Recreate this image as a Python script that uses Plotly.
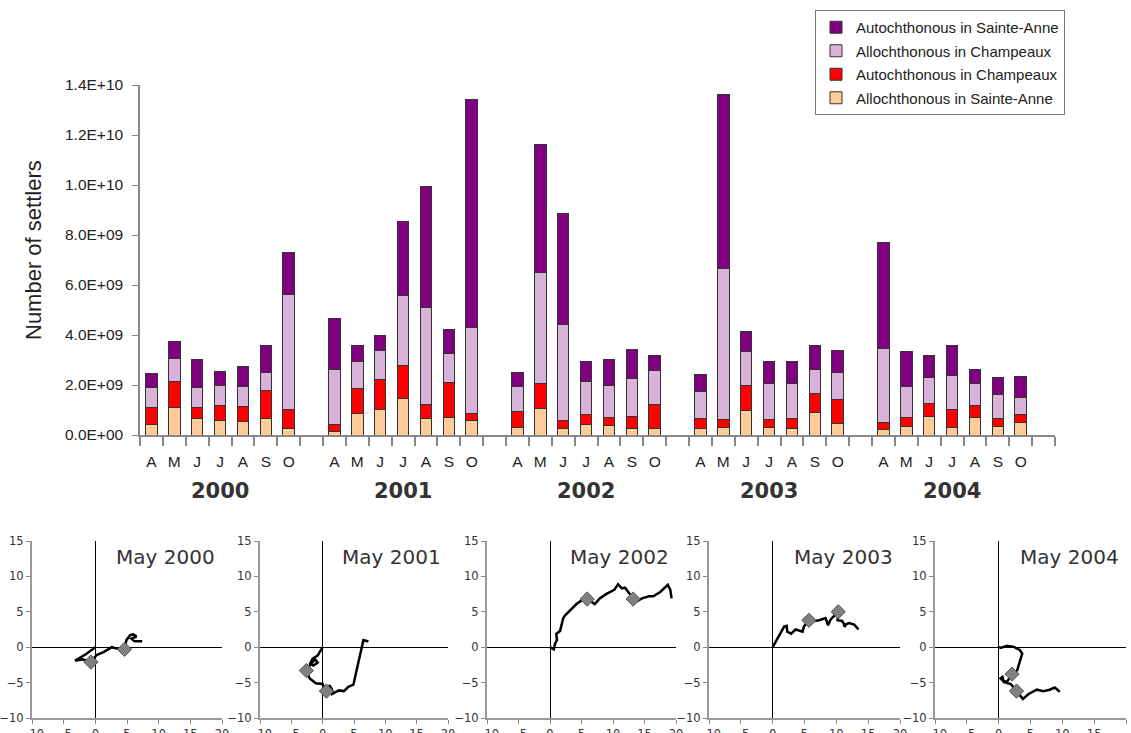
import plotly.graph_objects as go

years = ["2000", "2001", "2002", "2003", "2004"]
months = ["A", "M", "J", "J", "A", "S", "O"]

# stacked segment heights, billions of settlers, April..October for each year
allo_sainte_anne = [
    [0.43, 1.12, 0.68, 0.59, 0.53, 0.68, 0.25],
    [0.16, 0.85, 1.01, 1.45, 0.67, 0.69, 0.60],
    [0.32, 1.05, 0.27, 0.43, 0.37, 0.27, 0.25],
    [0.27, 0.31, 0.99, 0.31, 0.27, 0.91, 0.45],
    [0.24, 0.35, 0.73, 0.31, 0.69, 0.35, 0.52],
]
auto_champeaux = [
    [0.66, 1.04, 0.41, 0.61, 0.62, 1.10, 0.79],
    [0.27, 1.01, 1.23, 1.32, 0.57, 1.41, 0.28],
    [0.64, 1.01, 0.32, 0.40, 0.34, 0.49, 0.98],
    [0.41, 0.33, 0.99, 0.33, 0.40, 0.77, 0.99],
    [0.28, 0.36, 0.54, 0.73, 0.51, 0.33, 0.31],
]
allo_champeaux = [
    [0.83, 0.92, 0.81, 0.80, 0.78, 0.72, 4.59],
    [2.21, 1.08, 1.14, 2.80, 3.85, 1.15, 3.41],
    [1.00, 4.43, 3.85, 1.30, 1.29, 1.49, 1.34],
    [1.07, 6.03, 1.38, 1.44, 1.41, 0.93, 1.08],
    [2.96, 1.22, 1.05, 1.36, 0.88, 0.93, 0.69],
]
auto_sainte_anne = [
    [0.56, 0.65, 1.11, 0.53, 0.81, 1.10, 1.66],
    [2.02, 0.66, 0.62, 2.97, 4.87, 0.99, 9.12],
    [0.56, 5.15, 4.41, 0.80, 1.04, 1.17, 0.61],
    [0.67, 6.96, 0.78, 0.85, 0.88, 0.99, 0.88],
    [4.22, 1.41, 0.86, 1.17, 0.53, 0.69, 0.84],
]

y_ticks = [0, 2e9, 4e9, 6e9, 8e9, 1.0e10, 1.2e10, 1.4e10]

# drift tracks of May, one per year (km east, km north)
track_titles = ["May 2000", "May 2001", "May 2002", "May 2003", "May 2004"]
track_x = [
    [0, -1.5, -3.2, -2.0, -0.7, 0.2, 1.3, 2.6, 3.4, 4.6, 4.9, 5.5, 6.0, 6.5, 5.7, 6.2, 7.4],
    [0, -0.8, -1.6, -2.0, -1.5, -0.8, -1.2, -2.0, -2.6, -2.1, -1.1, 0, 0.2, 0.6, 1.1, 1.5,
     1.5, 2.6, 3.4, 4.1, 4.9, 6.5, 7.3],
    [0, 0.6, 0.8, 1.1, 1.0, 1.6, 2.1, 2.4, 3.2, 4.2, 5.0, 5.9, 6.6, 7.1, 7.9, 8.9, 10.2,
     10.8, 11.4, 11.9, 12.6, 13.2, 13.6, 14.6, 15.7, 16.4, 17.5, 18.7, 19.1, 19.3],
    [0, 1.0, 1.8, 2.2, 2.3, 2.9, 3.6, 4.7, 4.9, 5.7, 6.5, 7.3, 8.3, 8.7, 9.1, 9.5, 10.3,
     10.2, 10.9, 11.5, 11.1, 12.0, 12.8, 13.5],
    [0, 0.3, 1.3, 2.4, 3.3, 3.7, 3.4, 3.1, 2.9, 2.1, 1.6, 1.3, 0.6, 0.3, 0.6, 0.8, 1.9,
     2.8, 3.8, 4.7, 6.0, 7.0, 8.0, 8.8, 9.6],
]
track_y = [
    [0, -1.0, -1.9, -1.7, -2.1, -1.1, -0.7, 0.0, -0.2, -0.3, 1.0, 1.7, 1.8, 1.5, 1.2, 0.85, 0.85],
    [0, -1.2, -1.6, -2.3, -2.6, -2.2, -1.7, -2.5, -3.3, -4.4, -5.1, -5.2, -5.8, -6.2, -5.4, -6.0,
     -6.6, -6.1, -6.2, -5.6, -5.3, 1.0, 0.8],
    [0, -0.3, 0.5, 1.0, 1.9, 2.3, 4.1, 4.5, 5.2, 6.1, 6.6, 6.8, 6.4, 6.1, 6.9, 7.5, 8.1,
     8.9, 8.3, 8.4, 7.6, 6.8, 6.4, 6.9, 7.2, 7.2, 7.8, 8.8, 8.1, 6.9],
    [0, 1.6, 2.9, 3.0, 2.2, 1.9, 2.5, 2.2, 2.9, 3.8, 3.7, 3.8, 4.1, 3.1, 3.9, 4.3, 5.0,
     3.8, 3.7, 2.9, 3.1, 3.4, 3.2, 2.5],
    [0, -0.1, 0.2, 0.05, -0.4, -0.9, -1.8, -2.8, -3.3, -3.8, -4.4, -4.9, -4.7, -4.4, -4.2, -4.9,
     -5.2, -6.2, -7.3, -6.6, -6.0, -6.2, -6.0, -5.7, -6.3],
]
mark_x = [[-0.7, 4.6], [-2.6, 0.6], [5.9, 13.2], [5.7, 10.3], [2.1, 2.8]]
mark_y = [[-2.1, -0.3], [-3.3, -6.2], [6.8, 6.8], [3.8, 5.0], [-3.8, -6.2]]

W, H = 1131, 733
slot = len(months) + 1   # one empty slot after each year

xpos = []
for yi in range(len(years)):
    for mi in range(len(months)):
        xpos.append(yi * slot + mi)
n_slots = len(years) * slot


def flat(rows):
    return [v * 1e9 for row in rows for v in row]


series = [
    ("Allochthonous in Sainte-Anne", allo_sainte_anne, "#FFCC99"),
    ("Autochthonous in Champeaux", auto_champeaux, "#FF0000"),
    ("Allochthonous in Champeaux", allo_champeaux, "#D8B2D8"),
    ("Autochthonous in Sainte-Anne", auto_sainte_anne, "#800080"),
]

fig = go.Figure()
for k, (name, rows, col) in enumerate(series):
    fig.add_trace(go.Bar(
        x=xpos, y=flat(rows), name=name, legendgroup=name, legendrank=len(series) - k,
        width=0.5,
        marker=dict(color=col, line=dict(color="#333333", width=1)),
    ))

tick_font = dict(family="Liberation Sans", size=15.5, color="#222222")

fig.update_layout(
    width=W, height=H,
    margin=dict(l=0, r=0, t=0, b=0),
    plot_bgcolor="white", paper_bgcolor="white",
    barmode="stack",
    showlegend=True,
    legend=dict(
        x=815 / W, y=1 - 10 / H, xanchor="left", yanchor="top",
        traceorder="grouped", tracegroupgap=1, itemwidth=30,
        font=dict(family="Liberation Sans", size=15, color="#222222"),
        bgcolor="white", bordercolor="#777777", borderwidth=1,
    ),
    xaxis=dict(
        domain=[140 / W, 1055 / W], range=[-0.5, n_slots - 0.5], automargin=False,
        tickmode="array", tickvals=xpos, ticktext=months * len(years),
        ticks="outside", ticklen=12, tickcolor="rgba(0,0,0,0)",
        tickfont=tick_font,
        showline=True, linecolor="#888888", linewidth=1.5,
        showgrid=False, zeroline=False,
        minor=dict(tickmode="array", tickvals=[i - 0.5 for i in range(n_slots + 1)],
                   ticks="outside", ticklen=9, tickcolor="#888888", tickwidth=1.5,
                   showgrid=False),
    ),
    yaxis=dict(
        domain=[1 - 435 / H, 1 - 85 / H], range=[0, 1.4e10], automargin=False,
        tickmode="array", tickvals=y_ticks, ticktext=[f"{v:.1E}" for v in y_ticks],
        ticks="outside", ticklen=6, tickcolor="#888888", ticklabelstandoff=6,
        tickfont=tick_font,
        showline=True, linecolor="#888888", linewidth=1.5,
        showgrid=False, zeroline=False,
    ),
)

fig.add_annotation(
    text="Number of settlers", xref="paper", yref="paper",
    x=33 / W, y=1 - 250 / H, xanchor="center", yanchor="middle",
    textangle=-90, showarrow=False,
    font=dict(family="Liberation Sans", size=22, color="#222222"),
)
for yi, yr in enumerate(years):
    fig.add_annotation(
        text="<b>" + yr + "</b>", xref="x", yref="paper",
        x=yi * slot + (len(months) - 1) / 2, y=1 - 491 / H,
        xanchor="center", yanchor="middle", showarrow=False,
        font=dict(family="DejaVu Sans", size=21, color="#333333"),
    )

# lower panels
panel_px = [(32, 222), (260, 448), (487, 676), (709, 900), (935, 1126)]
small_font = dict(family="DejaVu Sans", size=11.5, color="#333333")
for i, title in enumerate(track_titles):
    n = i + 2
    xa, ya = "x%d" % n, "y%d" % n
    fig.add_trace(go.Scatter(
        x=track_x[i], y=track_y[i], mode="lines", xaxis=xa, yaxis=ya,
        line=dict(color="black", width=2.5), showlegend=False, hoverinfo="skip",
    ))
    fig.add_trace(go.Scatter(
        x=mark_x[i], y=mark_y[i], mode="markers", xaxis=xa, yaxis=ya,
        marker=dict(symbol="diamond", size=11, color="#808080",
                    line=dict(color="#555555", width=1)),
        showlegend=False,
    ))
    left, right = panel_px[i]
    fig.update_layout({
        "xaxis%d" % n: dict(
            domain=[left / W, right / W], range=[-10, 20], anchor=ya, automargin=False,
            tickvals=[-10, -5, 0, 5, 10, 15, 20], ticks="outside", ticklen=4,
            tickcolor="#888888", tickfont=small_font,
            showline=True, linecolor="#999999", linewidth=2,
            showgrid=False, zeroline=True, zerolinecolor="black", zerolinewidth=1,
        ),
        "yaxis%d" % n: dict(
            domain=[1 - 718 / H, 1 - 541 / H], range=[-10, 15], anchor=xa, automargin=False,
            tickvals=[-10, -5, 0, 5, 10, 15], ticks="outside", ticklen=4,
            tickcolor="#888888", tickfont=small_font,
            showline=True, linecolor="#999999", linewidth=2,
            showgrid=False, zeroline=True, zerolinecolor="black", zerolinewidth=1,
        ),
    })
    fig.add_annotation(
        text=title, xref=xa, yref=ya, x=19.2, y=12.8, xanchor="right", yanchor="middle",
        showarrow=False, font=dict(family="DejaVu Sans", size=20, color="#333333"),
    )

# the page body has a default margin; drop it so the figure sits at the window's corner
fig.write_html("out.html", config={"displayModeBar": False},
               post_script="document.body.style.margin='0';")
